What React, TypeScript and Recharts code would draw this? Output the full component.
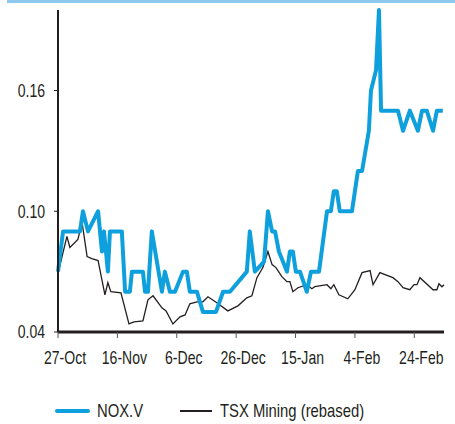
import React from 'react';
import { LineChart, Line, XAxis, YAxis, Legend } from 'recharts';

// x positions are days since 27-Oct
const tickDays = [0, 20, 40, 60, 80, 100, 120];
const tickLabels = ['27-Oct', '16-Nov', '6-Dec', '26-Dec', '15-Jan', '4-Feb', '24-Feb'];
const yTicks = [0.04, 0.1, 0.16];

const noxDays = [0, 1.7, 7.4, 8.4, 10.1, 13.5, 14.8, 15.5, 16.8, 17.5, 21.5, 22.6, 24.2, 24.9, 28.6, 29.3, 30.3, 31.6, 35.0, 36.0, 37.7, 39.4, 42.1, 43.4, 44.4, 46.8, 48.8, 53.2, 55.6, 57.9, 63.6, 64.6, 66.3, 69.4, 70.7, 72.1, 73.1, 74.4, 77.1, 78.1, 79.1, 80.1, 81.5, 83.8, 85.2, 87.9, 90.6, 91.9, 92.9, 93.9, 94.9, 99.0, 100.0, 101.0, 102.4, 104.7, 105.4, 107.1, 108.1, 108.8, 114.5, 116.2, 118.5, 121.2, 122.6, 124.2, 126.3, 127.6, 129.6];
const noxValues = [0.07, 0.09, 0.09, 0.1, 0.09, 0.1, 0.08, 0.09, 0.07, 0.09, 0.09, 0.06, 0.06, 0.07, 0.07, 0.06, 0.06, 0.09, 0.06, 0.07, 0.06, 0.06, 0.07, 0.07, 0.06, 0.06, 0.05, 0.05, 0.06, 0.06, 0.07, 0.09, 0.07, 0.075, 0.1, 0.09, 0.09, 0.08, 0.07, 0.08, 0.08, 0.07, 0.07, 0.06, 0.07, 0.07, 0.1, 0.1, 0.11, 0.11, 0.1, 0.1, 0.11, 0.12, 0.12, 0.14, 0.16, 0.17, 0.2, 0.15, 0.15, 0.14, 0.15, 0.14, 0.15, 0.15, 0.14, 0.15, 0.15];

const tsxDays = [0, 3.0, 4.0, 6.7, 8.1, 9.8, 11.4, 13.5, 15.8, 16.8, 17.8, 21.2, 23.9, 25.6, 28.6, 30.3, 32.0, 35.0, 36.4, 38.7, 41.1, 42.8, 44.4, 46.8, 48.8, 50.5, 53.5, 57.2, 60.6, 63.6, 65.3, 67.0, 69.0, 70.7, 72.1, 73.4, 75.4, 77.1, 78.1, 79.1, 80.8, 83.8, 85.5, 86.5, 90.6, 91.9, 92.9, 94.6, 97.6, 100.0, 102.4, 105.1, 106.1, 108.4, 112.8, 114.5, 116.2, 118.5, 119.9, 120.9, 121.9, 126.3, 127.6, 128.3, 129.3, 130.0];
const tsxValues = [0.069, 0.0875, 0.082, 0.086, 0.0945, 0.0775, 0.0765, 0.0755, 0.0585, 0.0645, 0.06, 0.0595, 0.044, 0.045, 0.0455, 0.056, 0.058, 0.052, 0.0505, 0.044, 0.0475, 0.0485, 0.054, 0.055, 0.055, 0.0575, 0.0545, 0.0505, 0.053, 0.057, 0.058, 0.067, 0.072, 0.08, 0.0735, 0.072, 0.0675, 0.065, 0.065, 0.06, 0.062, 0.0635, 0.0615, 0.0625, 0.0635, 0.0615, 0.0635, 0.0585, 0.0565, 0.061, 0.0695, 0.0705, 0.0635, 0.0695, 0.067, 0.065, 0.062, 0.061, 0.0635, 0.0635, 0.067, 0.061, 0.061, 0.064, 0.0625, 0.0635];

const noxData = noxDays.map((d, i) => ({ day: d, nox: noxValues[i] }));
const tsxData = tsxDays.map((d, i) => ({ day: d, tsx: tsxValues[i] }));

const FONT = '"Liberation Sans", Arial, sans-serif';
const INK = '#231F20';
const BLUE = '#0EA0DD';
const SQUEEZE = 0.78;

const XTick = (props: any) => {
  const { x, y, payload } = props;
  const i = tickDays.indexOf(payload.value);
  return (
    <g transform={`translate(${x + 7},${y}) scale(${SQUEEZE},1)`}>
      <text x={0} y={0} dy="0.71em" textAnchor="middle" fill={INK} fontSize={18} fontFamily={FONT}>
        {tickLabels[i]}
      </text>
    </g>
  );
};

const YTick = (props: any) => {
  const { x, y, payload } = props;
  return (
    <g transform={`translate(${x},${y}) scale(${SQUEEZE},1)`}>
      <text x={0} y={0} dy="0.355em" textAnchor="end" fill={INK} fontSize={18} fontFamily={FONT}>
        {Number(payload.value).toFixed(2)}
      </text>
    </g>
  );
};

const squeezed: React.CSSProperties = {
  position: 'absolute',
  top: 0,
  lineHeight: '24px',
  whiteSpace: 'nowrap',
  transform: `scaleX(${SQUEEZE})`,
  transformOrigin: 'left center',
};

const LegendContent = () => (
  <div style={{ position: 'relative', height: 24, width: 455, fontFamily: FONT, fontSize: 19, color: INK }}>
    <div style={{ position: 'absolute', left: 55, top: 10, width: 35, height: 4, background: BLUE, borderRadius: 2 }} />
    <div style={{ ...squeezed, left: 97 }}>NOX.V</div>
    <div style={{ position: 'absolute', left: 180, top: 11, width: 32, height: 2, background: INK }} />
    <div style={{ ...squeezed, left: 220 }}>TSX Mining (rebased)</div>
  </div>
);

export default function App() {
  return (
    <div style={{ position: 'absolute', left: 0, top: 0, width: 455, height: 424, overflow: 'hidden', background: '#fff' }}>
      <div style={{ position: 'absolute', left: 7, top: 0, width: 448, height: 3, background: '#8DC8EE' }} />
      <LineChart width={455} height={424} margin={{ top: 10, right: 11, left: 0, bottom: 1 }}>
        <XAxis
          dataKey="day"
          type="number"
          domain={[0, 130]}
          ticks={tickDays}
          height={67}
          axisLine={{ stroke: INK, strokeWidth: 3 }}
          tickLine={{ stroke: '#555' }}
          tickSize={6}
          tickMargin={13}
          tick={<XTick />}
        />
        <YAxis
          type="number"
          domain={[0.04, 0.2]}
          ticks={yTicks}
          width={58}
          axisLine={{ stroke: INK, strokeWidth: 2 }}
          tickLine={{ stroke: INK }}
          tickSize={4}
          tickMargin={9}
          tick={<YTick />}
        />
        <Legend verticalAlign="bottom" wrapperStyle={{ left: 0, width: 455 }} content={<LegendContent />} />
        <Line
          data={tsxData}
          dataKey="tsx"
          name="TSX Mining (rebased)"
          stroke={INK}
          strokeWidth={1.3}
          dot={false}
          isAnimationActive={false}
        />
        <Line
          data={noxData}
          dataKey="nox"
          name="NOX.V"
          stroke={BLUE}
          strokeWidth={4}
          strokeLinejoin="round"
          dot={false}
          isAnimationActive={false}
        />
      </LineChart>
    </div>
  );
}
